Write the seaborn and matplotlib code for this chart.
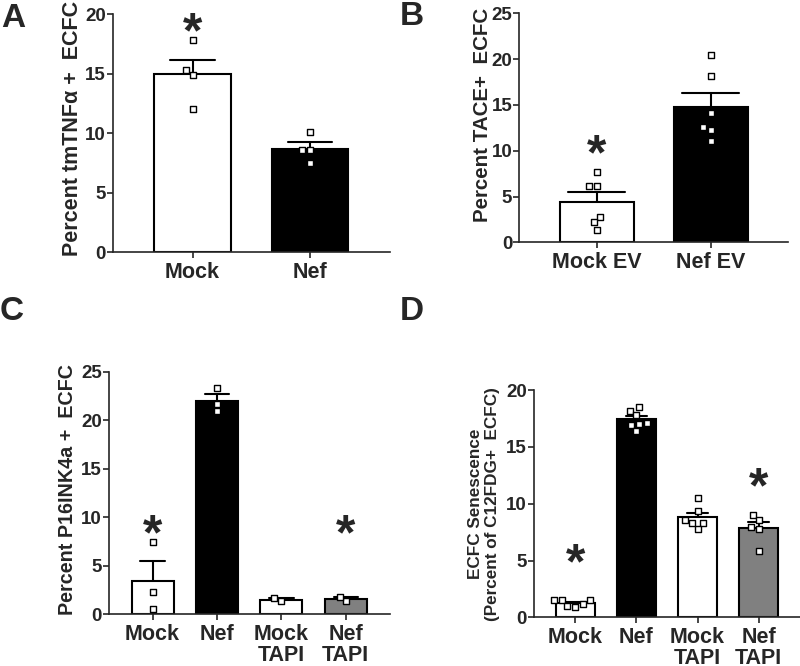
import matplotlib
matplotlib.use("Agg")
import matplotlib.pyplot as plt
import pandas as pd
import seaborn as sns

sns.set_style("ticks")
plt.rcParams["font.family"] = ["Liberation Sans", "DejaVu Sans"]
plt.rcParams["font.weight"] = "bold"

# panel A: tmTNFa+ ECFC
a_groups = ["Mock", "Nef"]
a_mock = [17.8, 15.3, 14.9, 12.0]
a_nef = [10.1, 8.6, 8.6, 7.5]

# panel B: TACE+ ECFC
b_groups = ["Mock EV", "Nef EV"]
b_mock = [7.7, 6.2, 6.2, 2.8, 2.2, 1.4]
b_nef = [20.4, 18.2, 14.1, 12.6, 12.3, 11.1]

# panel C: P16INK4a+ ECFC
c_groups = ["Mock", "Nef", "Mock\nTAPI", "Nef\nTAPI"]
c_mock = [7.4, 2.3, 0.5]
c_nef = [23.3, 21.7, 20.9]
c_mock_tapi = [1.3, 1.65]
c_nef_tapi = [1.3, 1.8]

# panel D: senescence (C12FDG+)
d_groups = ["Mock", "Nef", "Mock\nTAPI", "Nef\nTAPI"]
d_mock = [1.15, 1.5, 0.95, 1.5, 1.0, 1.5]
d_nef = [18.5, 18.2, 17.85, 17.1, 17.05, 16.9, 16.4]
d_mock_tapi = [10.5, 9.4, 8.6, 8.3, 8.3, 7.8]
d_nef_tapi = [9.05, 8.6, 7.95, 7.75, 5.85]

STAR_FS = 36


def draw_panel(ax, groups, values, colors, ymax, ylabel, label_xy, label_fs, cap, stars):
    df = pd.DataFrame({
        "group": [g for g, v in zip(groups, values) for _ in v],
        "value": [x for v in values for x in v],
    })
    sns.barplot(
        data=df, x="group", y="value", hue="group", order=groups, hue_order=groups,
        palette=dict(zip(groups, colors)), legend=False, saturation=1, width=0.65,
        edgecolor="black", linewidth=1.5, errorbar="se", capsize=cap,
        err_kws={"color": "black", "linewidth": 1.5, "zorder": 0.5}, ax=ax
    )
    sns.swarmplot(
        data=df, x="group", y="value", order=groups, marker="s", color="white",
        edgecolor="black", linewidth=1, size=4.5, zorder=4, ax=ax
    )
    # significance stars
    for xs, ys in stars:
        ax.annotate("*", (xs, ys), xytext=(0, -0.23 * STAR_FS), textcoords="offset points",
                    ha="center", va="center", fontsize=STAR_FS, fontweight="bold")

    n = len(groups)
    ax.set_xlim(-0.68, n - 1 + 0.68)
    ax.set_ylim(0, ymax)
    ax.set_yticks(range(0, ymax + 1, 5))
    ax.set_xlabel("")
    ax.set_ylabel("")
    ax.text(label_xy[0], label_xy[1], ylabel, rotation=90, ha="center", va="center",
            fontsize=label_fs, fontweight="bold", transform=ax.transAxes, linespacing=1.1)
    sns.despine(ax=ax)
    for side in ["left", "bottom"]:
        ax.spines[side].set_linewidth(1.2)
    ax.tick_params(axis="both", length=4, width=1.2, direction="out")
    ax.tick_params(axis="x", labelsize=15.5, pad=3)
    ax.tick_params(axis="y", labelsize=13.5, pad=1)
    for lab in ax.get_xticklabels():
        lab.set_linespacing(1.0)


fig = plt.figure(figsize=(8, 6.66), dpi=100)

ax_a = fig.add_axes([0.141, 0.6216, 0.346, 0.357])
draw_panel(ax_a, a_groups, [a_mock, a_nef], ["white", "black"], 20,
           "Percent tmTNF\u03b1 +  ECFC", (-0.145, 0.519), 15.5, 0.38, [(0, 19.3)])

ax_b = fig.add_axes([0.649, 0.636, 0.336, 0.344])
draw_panel(ax_b, b_groups, [b_mock, b_nef], ["white", "black"], 25,
           "Percent TACE+  ECFC", (-0.136, 0.558), 14.8, 0.5, [(0, 10.7)])

ax_c = fig.add_axes([0.136, 0.078, 0.351, 0.364])
draw_panel(ax_c, c_groups, [c_mock, c_nef, c_mock_tapi, c_nef_tapi],
           ["white", "black", "white", "#808080"], 25,
           "Percent P16INK4a +  ECFC", (-0.148, 0.513), 14.2, 0.38, [(0, 9.2), (3, 9.2)])

ax_d = fig.add_axes([0.6675, 0.0731, 0.3325, 0.341])
draw_panel(ax_d, d_groups, [d_mock, d_nef, d_mock_tapi, d_nef_tapi],
           ["white", "black", "white", "#808080"], 20,
           "ECFC Senescence\n(Percent of C12FDG+  ECFC)", (-0.188, 0.50), 12.3, 0.36,
           [(0, 5.6), (3, 12.25)])

# panel letters
for x, y, letter in [(0.002, 0.9595, "A"), (0.5, 0.9625, "B"),
                     (0.0, 0.519, "C"), (0.5, 0.519, "D")]:
    fig.text(x, y, letter, fontsize=24, fontweight="bold", va="baseline", ha="left")

fig.savefig("out.png", dpi=100)
